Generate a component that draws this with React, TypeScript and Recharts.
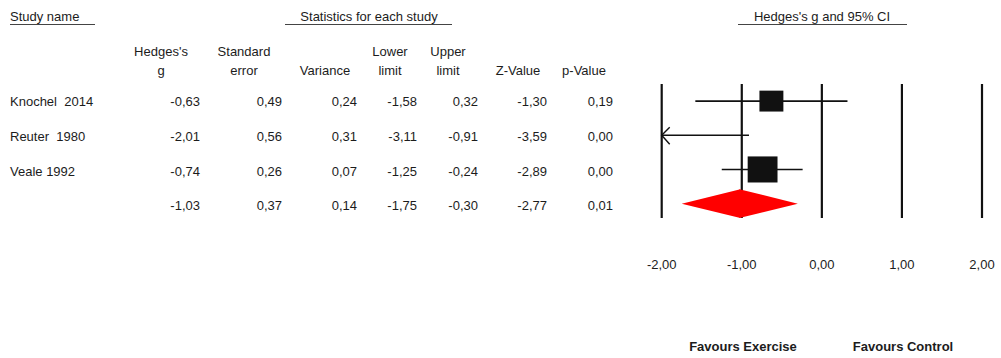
import React from 'react'
import {
  ComposedChart,
  CartesianGrid,
  XAxis,
  YAxis,
  Scatter,
  ReferenceLine,
  ReferenceArea,
  ReferenceDot
} from 'recharts'

// study rows, the last row is the pooled effect
const studyNames = ['Knochel  2014', 'Reuter  1980', 'Veale 1992', '']
const hedgesG = [-0.63, -2.01, -0.74, -1.03]
const stdError = [0.49, 0.56, 0.26, 0.37]
const variance = [0.24, 0.31, 0.07, 0.14]
const lowerLimit = [-1.58, -3.11, -1.25, -1.75]
const upperLimit = [0.32, -0.91, -0.24, -0.3]
const zValue = [-1.3, -3.59, -2.89, -2.77]
const pValue = [0.19, 0.0, 0.0, 0.01]
// relative study weights (box size)
const studyWeight = [2.08, 1.82, 3.23]

const axisTicks = [-2, -1, 0, 1, 2]
const columnHeaders = [
  ['Hedges\'s', 'g'],
  ['Standard', 'error'],
  ['', 'Variance'],
  ['Lower', 'limit'],
  ['Upper', 'limit'],
  ['', 'Z-Value'],
  ['', 'p-Value']
]

const FONT = '"Liberation Sans", Arial, sans-serif'
const INK = '#1c1c1c'
const X_MIN = axisTicks[0]
const X_MAX = axisTicks[axisTicks.length - 1]

const fmt = (v: number) => v.toFixed(2).replace('.', ',')

const columns = [hedgesG, stdError, variance, lowerLimit, upperLimit, zValue, pValue]
const headerCenters = [161, 244, 325, 390, 448, 518, 584]
const valueRight = [200, 282, 357, 417, 478, 547, 613]
const rowBaselines = [106, 141, 175.5, 210]

const boxData = studyWeight
  .map((w, i) => ({ x: hedgesG[i], y: i + 1, w }))
  .filter(d => d.x >= X_MIN && d.x <= X_MAX)

const BoxShape = (props: any) => {
  const { cx, cy, payload } = props
  const w = 16.6 * Math.sqrt(payload.w)
  const h = 14.5 * Math.sqrt(payload.w)
  return <rect x={cx - w / 2} y={cy - h / 2} width={w} height={h} fill="#111" />
}

// diamond halves overlap by 1px so no seam shows
const LeftHalf = (p: any) => (
  <polygon
    points={`${p.x},${p.y + p.height / 2} ${p.x + p.width + 1},${p.y} ${p.x + p.width + 1},${p.y + p.height}`}
    fill="#ff0000"
  />
)

const RightHalf = (p: any) => (
  <polygon
    points={`${p.x},${p.y} ${p.x + p.width},${p.y + p.height / 2} ${p.x},${p.y + p.height}`}
    fill="#ff0000"
  />
)

const ArrowHead = (props: any) => {
  const { cx, cy } = props
  return (
    <polyline
      points={`${cx + 8},${cy - 8} ${cx},${cy} ${cx + 8},${cy + 9}`}
      fill="none"
      stroke="#111"
      strokeWidth={1.4}
    />
  )
}

function TableOverlay() {
  return (
    <svg
      width={1001}
      height={358}
      style={{ position: 'absolute', left: 0, top: 0, pointerEvents: 'none' }}
      fontFamily={FONT}
      fontSize={13}
      fill={INK}
    >
      {/* group headers */}
      <text x={10} y={20.5}>Study name</text>
      <line x1={10} x2={95} y1={24.5} y2={24.5} stroke="#444" />
      <text x={369} y={20.5} textAnchor="middle">Statistics for each study</text>
      <line x1={285} x2={452} y1={24.5} y2={24.5} stroke="#444" />
      <text x={822} y={20.5} textAnchor="middle">Hedges's g and 95% CI</text>
      <line x1={738} x2={907} y1={24.5} y2={24.5} stroke="#444" />

      {/* column headers */}
      {columnHeaders.map((h, c) => (
        <g key={`h-${c}`}>
          {h[0] && <text x={headerCenters[c]} y={56} textAnchor="middle">{h[0]}</text>}
          <text x={headerCenters[c]} y={74.5} textAnchor="middle">{h[1]}</text>
        </g>
      ))}

      {/* rows */}
      {studyNames.map((name, r) => (
        <g key={`r-${r}`}>
          <text x={10} y={rowBaselines[r]} style={{ whiteSpace: 'pre' }}>{name}</text>
          {columns.map((col, c) => (
            <text key={c} x={valueRight[c]} y={rowBaselines[r]} textAnchor="end">
              {fmt(col[r])}
            </text>
          ))}
        </g>
      ))}

      <g fontWeight="bold">
        <text x={743} y={350.5} textAnchor="middle">Favours Exercise</text>
        <text x={903} y={350.5} textAnchor="middle">Favours Control</text>
      </g>
    </svg>
  )
}

export default function App() {
  return (
    <div style={{ position: 'absolute', left: 0, top: 0, width: 1001, height: 358, background: '#fff' }}>
      <ComposedChart
        width={1001}
        height={358}
        margin={{ top: 84, right: 19, bottom: 110, left: 661.7 }}
      >
        {/* the vertical scale lines sit below the marks */}
        <CartesianGrid horizontal={false} vertical stroke="#111" strokeWidth={2.2} />
        <XAxis
          type="number"
          dataKey="x"
          domain={[X_MIN, X_MAX]}
          ticks={axisTicks}
          allowDataOverflow
          axisLine={false}
          tickLine={false}
          tickMargin={36}
          height={30}
          tickFormatter={fmt}
          tick={{ fill: INK, fontSize: 13, fontFamily: FONT }}
        />
        <YAxis type="number" dataKey="y" domain={[0.5, 4.42]} reversed hide allowDataOverflow />

        {/* confidence intervals */}
        {studyWeight.map((_, i) => (
          <ReferenceLine
            key={`ci-${i}`}
            segment={[
              { x: Math.max(lowerLimit[i], X_MIN), y: i + 1 },
              { x: Math.min(upperLimit[i], X_MAX), y: i + 1 }
            ]}
            stroke="#111"
            strokeWidth={1.6}
            ifOverflow="visible"
          />
        ))}
        {studyWeight.map((_, i) =>
          lowerLimit[i] < X_MIN ? (
            <ReferenceDot key={`a-${i}`} x={X_MIN} y={i + 1} r={8} shape={ArrowHead} ifOverflow="visible" />
          ) : null
        )}

        {/* pooled effect diamond */}
        <ReferenceArea x1={lowerLimit[3]} x2={hedgesG[3]} y1={4 - 0.42} y2={4.42} shape={LeftHalf} />
        <ReferenceArea x1={hedgesG[3]} x2={upperLimit[3]} y1={4 - 0.42} y2={4.42} shape={RightHalf} />

        <Scatter data={boxData} shape={BoxShape} isAnimationActive={false} />
      </ComposedChart>
      <TableOverlay />
    </div>
  )
}
